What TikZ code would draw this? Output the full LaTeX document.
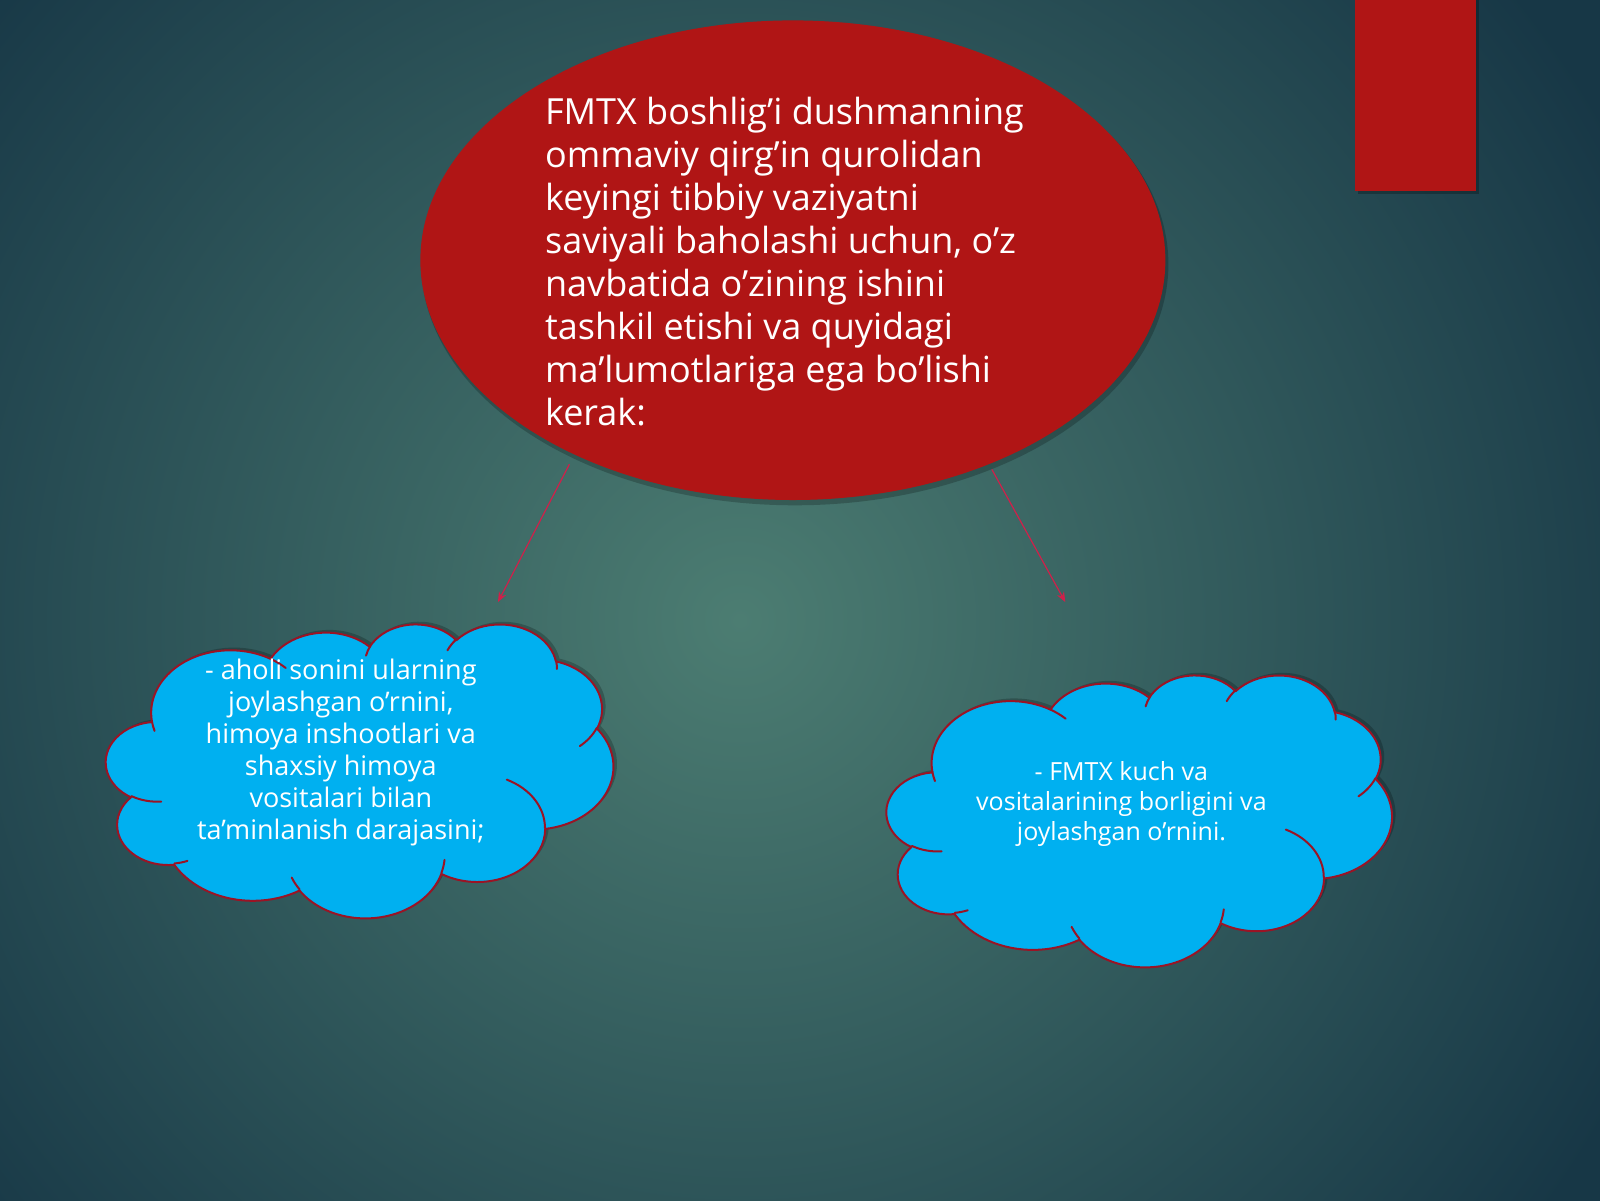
\documentclass[tikz,border=0pt]{standalone}
\usepackage{fontspec}
\setmainfont{Open Sans}
\usetikzlibrary{shapes.geometric,arrows.meta}
\definecolor{bgdark}{HTML}{173746}
\definecolor{bgmid}{HTML}{4C7D72}
\definecolor{ellred}{HTML}{B01515}
\definecolor{arrowred}{HTML}{D0204A}
\definecolor{cloudblue}{HTML}{00B0F0}
\definecolor{cloudedge}{HTML}{9A1425}
\tikzset{
  cloudfill/.style={fill=cloudblue, draw=cloudedge, line width=2pt, line join=round},
  cloudinner/.style={draw=cloudedge, line width=2pt, line cap=round},
  bubbletext/.style={text=white, align=center, inner sep=0pt},
  link/.style={draw=arrowred, line width=1.2pt, -{Stealth[length=10pt,width=8pt]}},
}
\newcommand\cloudoutline{(39pt,143.7pt)
  arc[start angle=-187.746, delta angle=128.114, x radius=67.53pt, y radius=91.90pt]
  arc[start angle=-152.028, delta angle=106.580, x radius=53.33pt, y radius=72.67pt]
  arc[start angle=-153.489, delta angle=116.139, x radius=43.65pt, y radius=59.45pt]
  arc[start angle=-139.707, delta angle=129.496, x radius=48.57pt, y radius=65.95pt]
  arc[start angle=-74.765, delta angle=97.975, x radius=53.33pt, y radius=72.73pt]
  arc[start angle=-37.523, delta angle=119.382, x radius=67.75pt, y radius=92.20pt]
  arc[start angle=0.460, delta angle=121.516, x radius=57.85pt, y radius=78.67pt]
  arc[start angle=16.846, delta angle=129.396, x radius=67.52pt, y radius=92.15pt]
  arc[start angle=58.986, delta angle=91.191, x radius=77.20pt, y radius=105.43pt]
  arc[start angle=-276.695, delta angle=139.783, x radius=43.60pt, y radius=59.18pt]
  arc[start angle=-239.641, delta angle=143.751, x radius=43.45pt, y radius=59.45pt]
  -- cycle}
\newcommand\pptcloud[4]{%
\begin{scope}[shift={(#1,#2)}, xscale=1.020408*#3/432, yscale=-1.020408*#4/432]
\fill[black, opacity=0.22, shift={(3pt,-4pt)}] \cloudoutline;
\path[cloudfill] \cloudoutline;
\path[cloudinner]
  (46.93pt,261.77pt) arc[start angle=85.543, delta angle=34.816, x radius=43.45pt, y radius=59.45pt]
  (69.28pt,348.99pt) arc[start angle=68.242, delta angle=15.063, x radius=43.60pt, y radius=59.18pt]
  (164.78pt,390.90pt) arc[start angle=146.242, delta angle=12.233, x radius=67.52pt, y radius=92.15pt]
  (288.27pt,347.51pt) arc[start angle=4.738, delta angle=12.108, x radius=67.52pt, y radius=92.15pt]
  (341.29pt,229.54pt) arc[start angle=-64.022, delta angle=64.482, x radius=57.85pt, y radius=78.67pt]
  (417.98pt,153.54pt) arc[start angle=23.210, delta angle=26.424, x radius=53.33pt, y radius=72.73pt]
  (383.24pt,54.26pt) arc[start angle=-10.211, delta angle=11.032, x radius=48.57pt, y radius=65.95pt]
  (290.78pt,39.52pt) arc[start angle=-156.281, delta angle=16.574, x radius=48.57pt, y radius=65.95pt]
  (221.41pt,47.20pt) arc[start angle=-167.726, delta angle=14.237, x radius=43.65pt, y radius=59.45pt]
  (140.00pt,51.92pt) arc[start angle=-59.632, delta angle=13.890, x radius=67.53pt, y radius=91.90pt]
  (41.27pt,157.89pt) arc[start angle=163.194, delta angle=9.060, x radius=67.53pt, y radius=91.90pt];
\end{scope}}
\begin{document}
\begin{tikzpicture}[x=1.020408pt,y=-1.020408pt]
\useasboundingbox (0,0) rectangle (1568,1176);
\fill[bgdark] (-8,-8) rectangle (1580,1190);
\begin{scope}
\clip (-8,-8) rectangle (1580,1190);
\shade[inner color=bgmid, outer color=bgdark] (725,608) circle (1000pt);
\end{scope}
% red tab
\fill[black, opacity=0.25] (1331,-8) rectangle (1449,190);
\fill[ellred] (1328,-8) rectangle (1446,187);
% main ellipse
\fill[black, opacity=0.22] (779,259) ellipse (373.5pt and 241pt);
\node[ellipse, fill=ellred, minimum width=745pt, minimum height=479.6pt, inner sep=0pt] (main) at (777,255) {};
\node[anchor=north west, text=white, align=left, inner sep=0pt,
  font=\fontsize{36}{43}\selectfont] (maintext) at (534,95)
  {FMTX boshlig’i dushmanning\\ ommaviy qirg’in qurolidan\\ keyingi tibbiy vaziyatni\\ saviyali baholashi uchun, o’z\\ navbatida o’zining ishini\\ tashkil etishi va quyidagi\\ ma’lumotlariga ega bo’lishi\\ kerak:};
% clouds
\pptcloud{104}{611}{497}{288}
\node[bubbletext, font=\fontsize{27}{32}\selectfont] (t1) at (334,737)
  {- aholi sonini ularning\\ joylashgan o’rnini,\\ himoya inshootlari va\\ shaxsiy himoya\\ vositalari bilan\\ ta’minlanish darajasini;};
\pptcloud{869}{661}{495}{286}
\node[bubbletext, font=\fontsize{25}{29.6}\selectfont] (t2) at (1099,788)
  {- FMTX kuch va\\ vositalarining borligini va\\ joylashgan o’rnini.};
% arrows
\coordinate (s1) at (558,455);
\coordinate (e1) at (488,590);
\coordinate (s2) at (972,460);
\coordinate (e2) at (1044,590);
\draw[link] (s1) -- (e1);
\draw[link] (s2) -- (e2);
\end{tikzpicture}
\end{document}
